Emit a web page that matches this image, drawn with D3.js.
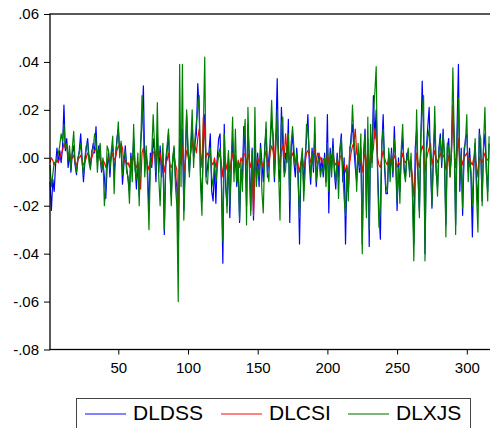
<!DOCTYPE html>
<html>
<head>
<meta charset="utf-8">
<script src="https://cdn.jsdelivr.net/npm/d3@7"></script>
<style>
  html, body { margin: 0; padding: 0; background: #fff; }
  svg { display: block; font-family: "Liberation Sans", Arial, sans-serif; }
</style>
</head>
<body>
<svg id="chart" width="490" height="428"></svg>
<script>
// Daily log-differences of three series, observations 1..316
const DLDSS = [
  -.010,-.022,-.009,-.014,-.003,.004,-.002,.003,-.002,.004,
  .022,.003,.008,-.004,.002,-.006,.002,.005,-.003,-.007,
  -.001,.003,.010,.000,-.010,-.002,.004,.008,.000,-.004,
  .002,.006,.002,.013,-.002,.005,.000,-.006,-.002,-.008,
  -.017,-.004,.002,-.008,.002,.005,-.006,.000,.008,.012,
  .002,.005,-.011,-.003,.005,-.004,-.009,-.014,.002,-.005,
  .008,-.003,-.013,-.002,-.016,.006,.014,.030,-.005,.003,
  -.005,-.022,.002,-.004,.008,.003,-.010,.010,-.006,.005,
  -.008,.002,-.032,-.004,.003,.010,-.006,-.016,-.001,.004,
  -.008,-.012,-.041,.008,-.002,.012,-.022,.000,.018,.002,
  -.006,.004,.014,.000,.006,.010,.031,.020,-.008,-.018,
  .006,.018,-.008,-.004,.002,.010,-.014,-.018,-.004,-.019,
  .000,.008,.010,-.012,-.044,.014,-.012,-.020,.002,-.025,
  -.004,.008,-.006,.000,-.012,-.004,-.027,-.005,-.010,.013,
  .002,-.020,.014,.000,-.022,.004,-.026,.010,-.008,.002,
  -.012,.006,-.002,-.010,.004,.012,-.008,.000,.006,.016,
  .010,-.010,.008,.033,-.004,-.010,.021,.006,-.006,.002,
  -.002,.016,-.027,.004,.010,-.002,-.008,.004,-.006,-.036,
  -.004,.002,-.012,.000,.008,.018,-.002,-.011,.004,-.006,
  .010,-.012,-.004,.002,-.006,.000,-.008,.002,-.010,.018,
  -.023,.004,-.004,.008,-.006,-.013,.002,-.008,.004,.010,
  -.010,.000,-.036,-.006,-.014,.002,.009,.014,.004,-.004,
  -.010,.002,-.006,.004,-.036,.002,.012,-.022,.008,-.037,
  .010,-.002,.026,.008,.020,-.004,-.022,-.034,.004,.018,
  -.004,-.015,-.015,.002,-.006,.004,-.008,.013,-.002,-.022,
  .000,-.014,.002,.008,-.004,-.008,.002,.000,-.006,-.002,
  -.010,-.036,.004,.012,-.008,-.022,.006,.032,.010,-.040,
  .004,.013,.021,-.004,-.021,.002,.014,-.006,-.012,.004,
  .010,-.004,.012,-.002,-.028,.004,.008,-.006,.002,.022,
  .006,-.028,.012,.039,-.014,.004,-.024,.000,.008,.010,
  -.006,.004,-.008,-.033,-.004,.006,-.010,-.020,.012,.002,
  -.018,.004,.010,-.006,-.014,.006
];

const DLCSI = [
  -.002,.000,-.001,-.003,-.002,-.001,-.002,.000,.002,.003,
  .006,.004,.005,.001,.002,-.001,.000,.001,-.002,-.003,
  -.001,.000,.001,-.001,-.003,-.002,.000,.002,.001,-.001,
  .000,.002,.003,.004,.001,.002,-.001,-.003,-.001,-.002,
  -.004,-.001,.000,-.002,.000,.002,-.001,.000,.003,.005,
  .004,.006,.004,-.002,-.001,-.003,-.002,-.004,-.001,-.002,
  .001,-.003,-.004,-.002,-.006,-.013,.002,.004,-.002,.000,
  -.003,-.005,-.001,-.003,.002,.003,-.001,.004,.000,.002,
  -.003,-.001,-.006,-.002,-.001,.002,-.003,-.004,-.002,.001,
  -.003,-.005,-.027,.002,-.003,.005,-.006,-.002,.003,.001,
  -.001,.002,.007,.003,.005,.002,.008,.012,.002,-.004,
  .017,.010,.000,.002,.001,.000,-.002,-.003,.000,-.004,
  -.001,.000,.002,-.003,-.008,.001,-.002,-.005,.000,-.006,
  -.001,.002,-.003,.001,-.005,-.001,-.004,.000,-.002,.002,
  .001,-.003,.002,-.001,-.004,-.001,-.024,-.006,-.003,.000,
  -.002,.000,-.002,-.004,.000,.003,-.002,-.003,.002,.005,
  .003,-.001,.010,.008,.002,-.004,.003,.005,.000,.010,
  .002,.003,-.001,.000,.002,.000,-.002,.000,-.003,-.006,
  -.002,.000,-.004,-.002,.002,.003,.001,-.002,.000,.001,
  .004,-.002,.002,.001,.000,-.002,-.001,.000,-.003,.002,
  -.002,.000,-.001,.001,-.002,-.003,-.001,-.003,.000,.001,
  -.002,-.003,-.006,-.003,-.013,-.002,.002,.005,.006,.012,
  .002,.000,-.002,-.001,-.006,-.001,.002,-.004,.003,-.005,
  .002,.000,.004,.012,.008,.000,-.003,-.004,.000,.003,
  .000,-.002,-.003,.000,-.002,.000,-.001,.001,-.001,-.004,
  -.002,-.003,-.001,.002,-.001,-.002,-.001,.000,-.003,-.004,
  -.008,-.016,-.006,.002,-.002,-.004,.002,.005,.003,-.006,
  -.001,.002,.004,.006,-.003,.000,.003,.000,-.002,.000,
  .002,.000,.001,.000,-.005,-.002,.001,-.008,.002,.021,
  .006,-.004,.002,.008,-.002,.000,-.003,.000,.001,.002,
  -.001,.000,-.002,-.003,.000,-.001,-.003,-.008,.000,-.001,
  -.002,.000,.002,.000,-.001,.000
];

const DLXJS = [
  -.003,-.012,-.007,-.002,-.002,-.001,.002,.005,.010,.007,
  .014,.004,.006,-.001,.005,-.005,.004,.011,-.002,-.006,
  .000,.002,.006,-.002,-.007,.000,.005,.006,-.002,-.005,
  .003,.004,.010,.008,-.006,.003,.006,-.005,.000,-.020,
  -.012,.005,.003,-.005,.003,.009,-.015,.002,.006,.015,
  .000,.007,-.007,.000,.003,-.006,-.008,-.019,.000,-.010,
  .014,-.005,-.009,.002,-.020,.003,.026,.012,-.008,.005,
  -.010,-.030,-.002,.002,.018,.005,-.006,.023,-.008,-.020,
  -.004,.006,-.030,-.001,.005,.012,-.004,-.020,.000,.005,
  -.012,-.020,-.060,.039,-.012,.039,-.026,-.005,.020,.005,
  -.008,.006,.020,-.004,.008,.015,.020,.026,-.012,-.024,
  .012,.042,-.010,-.011,.000,.004,-.008,-.012,-.002,-.010,
  -.004,.002,.004,-.008,-.035,.010,-.008,-.023,.003,-.020,
  -.002,.017,-.010,.012,-.010,-.002,-.026,-.002,-.014,.008,
  .016,-.028,.021,-.004,-.024,.003,-.018,.021,-.012,-.004,
  -.008,.004,-.014,-.023,.002,.015,-.006,-.010,.008,.024,
  .006,-.008,.004,.020,-.006,-.026,.014,.017,-.008,-.005,
  .004,.010,-.018,.006,.013,.004,-.004,.002,-.010,-.025,
  -.002,.004,-.018,-.006,.014,.012,.002,-.008,.002,-.004,
  .017,-.010,-.002,.000,-.008,-.004,-.006,.000,-.012,.006,
  -.014,.002,-.008,.004,-.004,-.010,.000,-.017,.002,.008,
  -.006,-.017,-.024,-.004,-.018,.004,.006,.022,.008,.002,
  -.014,.006,-.004,.010,-.040,.000,.010,-.025,.017,-.030,
  .014,-.004,.018,.027,.038,-.008,-.029,-.020,.006,.012,
  -.002,-.012,-.014,.004,-.010,.002,-.006,.008,.000,-.018,
  -.004,-.019,.004,.014,-.006,-.010,.000,.004,-.008,.002,
  -.016,-.043,-.010,.020,-.006,-.025,.010,.020,.026,-.043,
  .002,.008,.012,.000,-.020,-.002,.0215,-.004,-.016,.002,
  .008,-.002,.010,.002,-.033,.006,.004,-.008,.006,.0375,
  .008,-.032,.006,.025,-.010,.002,-.021,.004,.006,.018,
  -.010,.000,-.006,-.020,-.002,.008,-.016,-.031,.010,.008,
  -.020,.006,.021,-.004,-.018,.009
];

const seriesNames = ["DLDSS", "DLCSI", "DLXJS"];
const seriesColors = ["#0000ff", "#ff0000", "#008000"];
const legendColors = ["#5a5aff", "#ff5a5a", "#4f9f4f"];
const yTicks = [-0.08, -0.06, -0.04, -0.02, 0, 0.02, 0.04, 0.06];
const xTicks = [50, 100, 150, 200, 250, 300];

const svg = d3.select("#chart");
const plotLeft = 50, plotTop = 14, plotBottom = 349.5, plotRight = 490.5;

const x = d3.scaleLinear().domain([1, 317]).range([plotLeft, plotRight]);
const y = d3.scaleLinear().domain([-0.08, 0.06]).range([plotBottom, plotTop]);

// ".06", ".00", "-.02" style labels with a plain hyphen
const fmtY = v => {
  if (Math.abs(v) < 1e-9) return ".00";
  return d3.format(".2f")(v).replace("\u2212", "-").replace("0.", ".");
};

// series lines, first to last so the last one sits on top
const seriesData = [DLDSS, DLCSI, DLXJS];
const line = d3.line().x((d, i) => x(i + 1)).y(d => y(d));
seriesData.forEach((data, k) => {
  svg.append("path")
    .datum(data)
    .attr("fill", "none")
    .attr("stroke", seriesColors[k])
    .attr("stroke-width", 1.2)
    .attr("stroke-linejoin", "round")
    .attr("d", line);
});

// frame
svg.append("rect")
  .attr("x", plotLeft).attr("y", plotTop)
  .attr("width", plotRight + 2 - plotLeft).attr("height", plotBottom - plotTop)
  .attr("fill", "none").attr("stroke", "#000").attr("stroke-width", 1.3);

// y axis
const yAxis = d3.axisLeft(y).tickValues(yTicks).tickFormat(fmtY)
  .tickSizeInner(6).tickSizeOuter(0).tickPadding(5);
const gy = svg.append("g").attr("transform", `translate(${plotLeft},0)`).call(yAxis);
gy.select(".domain").remove();
gy.selectAll("line").attr("stroke", "#000");
gy.selectAll("text").attr("font-size", 15).attr("fill", "#000")
  .attr("font-family", "Liberation Sans, Arial, sans-serif");

// x axis
const xAxis = d3.axisBottom(x).tickValues(xTicks).tickFormat(d3.format("d"))
  .tickSizeInner(5).tickSizeOuter(0).tickPadding(8);
const gx = svg.append("g").attr("transform", `translate(0,${plotBottom})`).call(xAxis);
gx.select(".domain").remove();
gx.selectAll("line").attr("stroke", "#000");
gx.selectAll("text").attr("font-size", 15).attr("fill", "#000")
  .attr("font-family", "Liberation Sans, Arial, sans-serif");

// legend
const legend = svg.append("g");
legend.append("rect")
  .attr("x", 76.5).attr("y", 398.5).attr("width", 394).attr("height", 40)
  .attr("fill", "#fff").attr("stroke", "#444").attr("stroke-width", 1);
const legendX = [85, 221, 348];
seriesNames.forEach((name, k) => {
  legend.append("line")
    .attr("x1", legendX[k]).attr("x2", legendX[k] + 41)
    .attr("y1", 414).attr("y2", 414)
    .attr("stroke", legendColors[k]).attr("stroke-width", 1.4);
  legend.append("text")
    .attr("x", legendX[k] + 48).attr("y", 420)
    .attr("font-size", 21).attr("fill", "#000")
    .text(name);
});
</script>
</body>
</html>
